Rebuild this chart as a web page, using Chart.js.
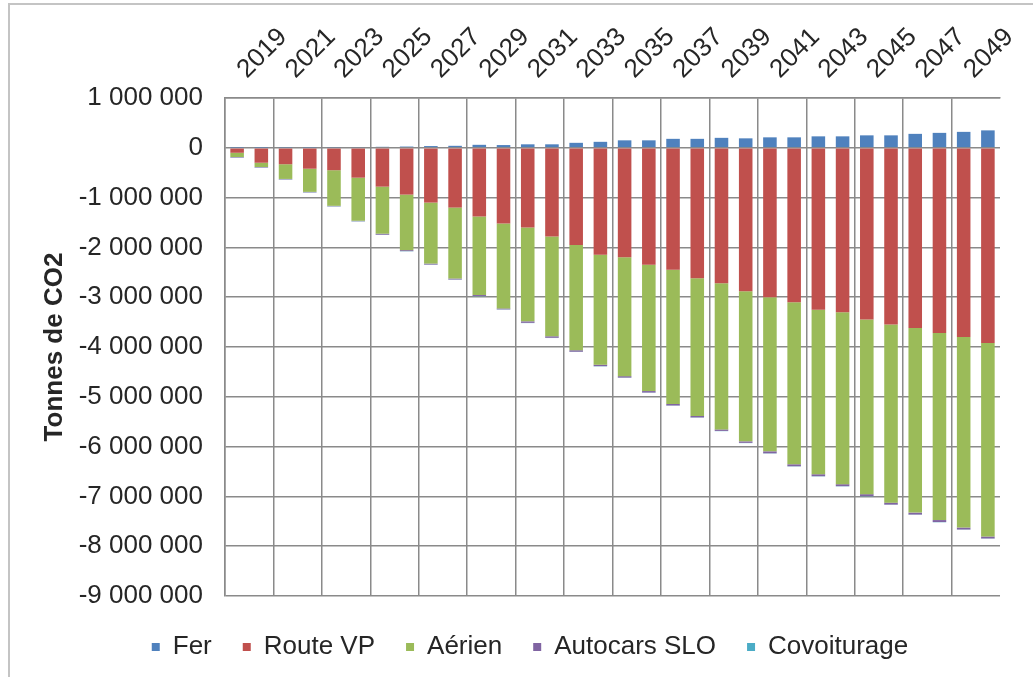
<!DOCTYPE html>
<html>
<head>
<meta charset="utf-8">
<script src="https://cdn.jsdelivr.net/npm/chart.js@4"></script>
<style>
  html, body { margin: 0; padding: 0; background: #fff; }
  #wrap { position: relative; width: 1033px; height: 677px; }
  #frame { position: absolute; left: 8px; top: 3px; right: 0; bottom: 0;
           border-top: 2px solid #c4c4c4; border-left: 2px solid #c4c4c4; pointer-events: none; }
</style>
</head>
<body>
<div id="wrap">
  <canvas id="co2Chart" width="1033" height="677"></canvas>
  <div id="frame"></div>
</div>
<script>
// Years (every year is a bar, every other year gets a label)
const years = ['2019', '2020', '2021', '2022', '2023', '2024', '2025', '2026', '2027', '2028',
               '2029', '2030', '2031', '2032', '2033', '2034', '2035', '2036', '2037', '2038',
               '2039', '2040', '2041', '2042', '2043', '2044', '2045', '2046', '2047', '2048',
               '2049', '2050'];

// Tonnes de CO2 per mode
const fer = [5000, 5000, 8000, 8000, 10000, 12000, 20000, 25000, 35000, 40000,
             60000, 55000, 70000, 70000, 100000, 120000, 150000, 150000, 180000, 180000,
             200000, 190000, 210000, 210000, 230000, 230000, 250000, 250000, 280000, 300000,
             320000, 350000];
const routeVP = [-100000, -300000, -330000, -420000, -450000, -600000, -780000, -940000, -1100000, -1200000,
                 -1380000, -1520000, -1600000, -1780000, -1950000, -2150000, -2200000, -2350000, -2450000, -2620000,
                 -2720000, -2880000, -3000000, -3100000, -3250000, -3300000, -3450000, -3550000, -3620000, -3720000,
                 -3800000, -3920000];
const aerien = [-85000, -85000, -295000, -465000, -715000, -865000, -945000, -1115000, -1225000, -1425000,
                -1575000, -1705000, -1885000, -2005000, -2115000, -2205000, -2385000, -2535000, -2695000, -2765000,
                -2935000, -3015000, -3095000, -3255000, -3305000, -3455000, -3505000, -3575000, -3705000, -3755000,
                -3825000, -3885000];
const autocarsSLO = [-10000, -10000, -10000, -10000, -10000, -10000, -20000, -20000, -20000, -20000,
                     -20000, -20000, -30000, -30000, -30000, -30000, -30000, -30000, -30000, -30000,
                     -30000, -30000, -40000, -40000, -40000, -40000, -40000, -40000, -40000, -40000,
                     -40000, -40000];
const covoiturage = [-5000, -5000, -5000, -5000, -5000, -5000, -5000, -5000, -5000, -5000,
                     -5000, -5000, -5000, -5000, -5000, -5000, -5000, -5000, -5000, -5000,
                     -5000, -5000, -5000, -5000, -5000, -5000, -5000, -5000, -5000, -5000,
                     -5000, -5000];

const yMin = -9000000;
const yMax = 1000000;
const yStep = 1000000;

const FONT = "'Liberation Sans', Arial, sans-serif";
const TEXT = '#262626';
const GRID = '#8a8a8a';

function formatTonnes(v) {
    const s = String(Math.abs(v)).replace(/\B(?=(\d{3})+(?!\d))/g, ' ');
    return (v < 0 ? '-' : '') + s;
}

// nudge the legend a bit right/down, like the Excel original
const legendNudge = {
    id: 'legendNudge',
    afterLayout(chart) {
        const l = chart.legend;
        l.left += 25; l.right += 25;
        l.top += 7; l.bottom += 7;
    }
};

const ctx = document.getElementById('co2Chart').getContext('2d');
new Chart(ctx, {
    type: 'bar',
    data: {
        labels: years,
        datasets: [
            { label: 'Fer', data: fer, backgroundColor: '#4f81bd' },
            { label: 'Route VP', data: routeVP, backgroundColor: '#c0504d' },
            { label: 'Aérien', data: aerien, backgroundColor: '#9bbb59' },
            { label: 'Autocars SLO', data: autocarsSLO, backgroundColor: '#8064a2' },
            { label: 'Covoiturage', data: covoiturage, backgroundColor: '#4bacc6' }
        ]
    },
    plugins: [legendNudge],
    options: {
        responsive: false,
        animation: false,
        devicePixelRatio: 1,
        barPercentage: 0.56,
        categoryPercentage: 1.0,
        layout: { padding: { left: 10, right: 33, top: 0, bottom: 14 } },
        plugins: {
            legend: {
                position: 'bottom',
                labels: {
                    boxWidth: 8,
                    boxHeight: 8,
                    padding: 31,
                    color: TEXT,
                    font: { family: FONT, size: 26 }
                }
            },
            tooltip: { enabled: false }
        },
        scales: {
            x: {
                position: 'top',
                stacked: true,
                offset: true,
                grid: {
                    offset: true,
                    drawTicks: false,
                    lineWidth: 1.5,
                    color: c => (c.index % 2 === 0 ? GRID : 'rgba(0,0,0,0)')
                },
                border: { display: true, color: GRID, width: 1.5 },
                ticks: {
                    autoSkip: false,
                    minRotation: 45,
                    maxRotation: 45,
                    padding: 13,
                    labelOffset: 27,
                    color: TEXT,
                    font: { family: FONT, size: 26 },
                    callback: function (value, index) {
                        return index % 2 === 0 ? this.getLabelForValue(value) : '';
                    }
                },
                afterFit: scale => { scale.height = 98; }
            },
            y: {
                stacked: true,
                min: yMin,
                max: yMax,
                grid: { drawTicks: false, lineWidth: 1.5, color: GRID },
                border: { display: true, color: GRID, width: 1.5 },
                ticks: {
                    stepSize: yStep,
                    autoSkip: false,
                    padding: 22,
                    color: TEXT,
                    font: { family: FONT, size: 26 },
                    callback: v => formatTonnes(v)
                },
                title: {
                    display: true,
                    text: 'Tonnes de CO2',
                    color: TEXT,
                    font: { family: FONT, size: 26, weight: 'bold' },
                    padding: { top: 29, bottom: 0 }
                },
                afterFit: scale => { scale.width = 215; }
            }
        }
    }
});
</script>
</body>
</html>
